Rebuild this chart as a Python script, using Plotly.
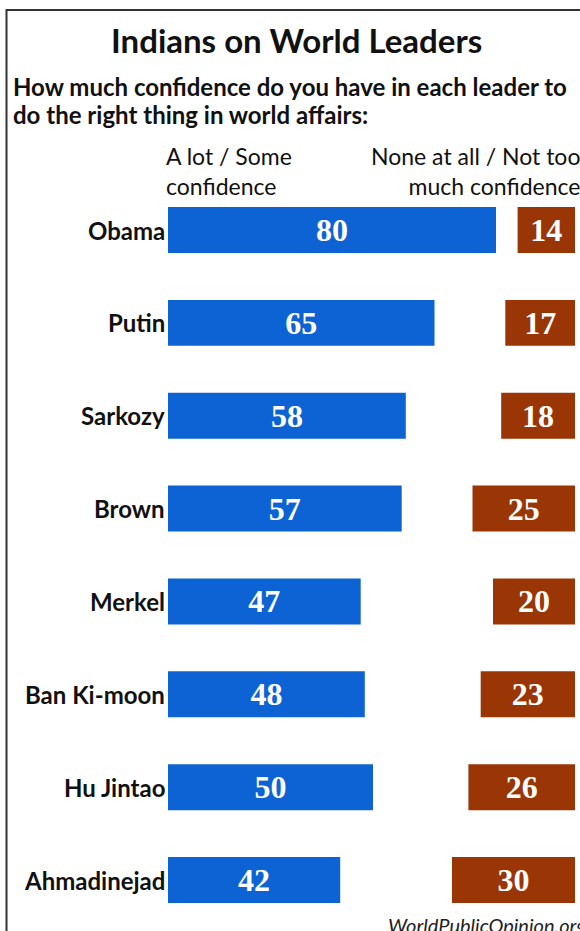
import plotly.graph_objects as go

leaders = ["Obama", "Putin", "Sarkozy", "Brown", "Merkel", "Ban Ki-moon", "Hu Jintao", "Ahmadinejad"]
confidence = [80, 65, 58, 57, 47, 48, 50, 42]
no_confidence = [14, 17, 18, 25, 20, 23, 26, 30]

W, H = 580, 931
BLUE = "#0D63D4"
RED = "#9A3506"
SANS = "Lato, 'Open Sans', sans-serif"
SERIF = "'Liberation Serif', 'DejaVu Serif', serif"

px_per_unit = 4.1
x0_px = 168
right_px = 575
x_lo = -x0_px / px_per_unit
x_hi = (W - x0_px) / px_per_unit
right_edge = (right_px - x0_px) / px_per_unit

row_px = 92.86
first_px = 230
y_top = -first_px / row_px
y_bot = y_top + H / row_px

idx = list(range(len(leaders)))

fig = go.Figure()
fig.add_trace(go.Bar(
    y=idx, x=confidence, base=[0] * len(idx), orientation="h",
    marker=dict(color=BLUE, line=dict(width=0)), width=0.495,
    text=[str(v) for v in confidence], textposition="inside",
    insidetextanchor="middle", constraintext="none",
    textfont=dict(family=SERIF, size=32, color="white", weight="bold"),
    hoverinfo="skip",
))
fig.add_trace(go.Bar(
    y=idx, x=no_confidence, base=[right_edge - v for v in no_confidence], orientation="h",
    marker=dict(color=RED, line=dict(width=0)), width=0.495,
    text=[str(v) for v in no_confidence], textposition="inside",
    insidetextanchor="middle", constraintext="none",
    textfont=dict(family=SERIF, size=32, color="white", weight="bold"),
    hoverinfo="skip",
))

annotations = []
for i, name in zip(idx, leaders):
    annotations.append(dict(
        x=0, y=i, xref="x", yref="y", text=f"<b>{name}</b>", showarrow=False,
        xanchor="right", yanchor="middle", xshift=-1,
        font=dict(family=SANS, size=24, color="#111"),
    ))

def py(px):
    return 1 - px / H

annotations += [
    dict(x=296 / W, y=py(40), xref="paper", yref="paper", text="<b>Indians on World Leaders</b>",
         showarrow=False, xanchor="center", yanchor="middle",
         font=dict(family=SANS, size=33, color="#111")),
    dict(x=11 / W, y=py(87), xref="paper", yref="paper",
         text="<b>How much confidence do you have in each leader to</b>",
         showarrow=False, xanchor="left", yanchor="middle",
         font=dict(family=SANS, size=24, color="#111")),
    dict(x=11 / W, y=py(114), xref="paper", yref="paper",
         text="<b>do the right thing in world affairs:</b>",
         showarrow=False, xanchor="left", yanchor="middle",
         font=dict(family=SANS, size=24, color="#111")),
    dict(x=(x0_px - 4) / W, y=py(171), xref="paper", yref="paper",
         text="A lot / Some<br>confidence",
         showarrow=False, xanchor="left", yanchor="middle", align="left",
         font=dict(family=SANS, size=23, color="#111")),
    dict(x=582 / W, y=py(171), xref="paper", yref="paper",
         text="None at all / Not too<br>much confidence",
         showarrow=False, xanchor="right", yanchor="middle", align="right",
         font=dict(family=SANS, size=23, color="#111")),
    dict(x=588 / W, y=py(925), xref="paper", yref="paper",
         text="<i>WorldPublicOpinion.org</i>",
         showarrow=False, xanchor="right", yanchor="middle",
         font=dict(family=SANS, size=20, color="#222")),
]

fig.update_layout(
    width=W, height=H, margin=dict(l=0, r=0, t=0, b=0),
    paper_bgcolor="white", plot_bgcolor="white",
    barmode="overlay", showlegend=False,
    xaxis=dict(range=[x_lo, x_hi], visible=False, fixedrange=True),
    yaxis=dict(range=[y_bot, y_top], visible=False, fixedrange=True),
    annotations=annotations,
    shapes=[dict(type="rect", xref="paper", yref="paper",
                 x0=6.5 / W, x1=1.05, y0=-0.05, y1=py(10),
                 line=dict(color="#333", width=2), fillcolor="rgba(0,0,0,0)")],
)

fig.write_html(
    "out.html",
    config={"displayModeBar": False},
    post_script="document.body.style.margin='0';document.body.style.overflow='hidden';",
)
